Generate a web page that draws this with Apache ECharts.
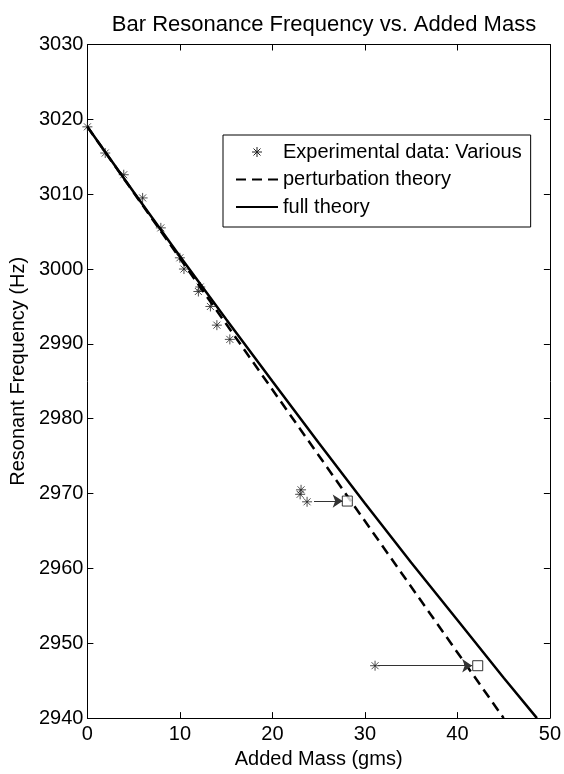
<!DOCTYPE html>
<html>
<head>
<meta charset="utf-8">
<script src="https://cdn.jsdelivr.net/npm/echarts@6/dist/echarts.min.js"></script>
<style>
html,body{margin:0;padding:0;background:#fff;}
#chart{width:564px;height:774px;}
</style>
</head>
<body>
<div id="chart"></div>
<script>
// ---- data ----
const xTicks = [0, 10, 20, 30, 40, 50];
const yTicks = [2940, 2950, 2960, 2970, 2980, 2990, 3000, 3010, 3020, 3030];

const expMass = [0, 1.93, 3.93, 5.97, 7.94, 10.0, 10.44, 12.0, 12.2, 13.3, 14.0, 15.4, 23.1, 23.0, 23.75, 31.1];
const expFreq = [3019, 3015.5, 3012.6, 3009.5, 3005.5, 3001.5, 3000.0, 2997.0, 2997.6, 2995.0, 2992.5, 2990.6, 2970.5, 2969.9, 2968.9, 2947.0];

const pertMass = [0, 45];
const pertFreq = [3019, 2940];

const fullMass = [0, 5, 10, 15, 20, 25, 30, 35, 40, 45, 48.6];
const fullFreq = [3019, 3010.3, 3001.7, 2993.3, 2985.0, 2976.8, 2968.7, 2960.8, 2953.1, 2945.4, 2940.0];

const squareMass = [28.1, 42.2];
const squareFreq = [2969.0, 2947.0];

// arrows: start mass, end mass, frequency
const arrowStart = [24.5, 31.4];
const arrowEnd = [27.6, 41.6];
const arrowFreq = [2969.0, 2947.0];

const names = ['Experimental data: Various', 'perturbation theory', 'full theory'];

// ---- chart ----
const FONT = 'Liberation Sans, Arial, Helvetica, sans-serif';
const STAR = 'path://M10,0L10,20M0,10L20,10M3,3L17,17M3,17L17,3';
const zip = (a, b) => a.map((v, i) => [v, b[i]]);

const chart = echarts.init(document.getElementById('chart'), null, {renderer: 'canvas'});

const baseX = {
  type: 'value', min: 0, max: 50, interval: 10,
  axisLine: {onZero: false, lineStyle: {color: '#000', width: 1}},
  axisTick: {inside: true, length: 6, lineStyle: {color: '#000', width: 1}},
  splitLine: {show: false}
};
const baseY = {
  type: 'value', min: 2940, max: 3030, interval: 10,
  axisLine: {onZero: false, lineStyle: {color: '#000', width: 1}},
  axisTick: {inside: true, length: 6, lineStyle: {color: '#000', width: 1}},
  splitLine: {show: false}
};

const option = {
  animation: false,
  backgroundColor: '#fff',
  title: {
    text: 'Bar Resonance Frequency vs. Added Mass',
    left: 319, textAlign: 'center', top: 9,
    textStyle: {fontFamily: FONT, fontSize: 22, fontWeight: 'normal', color: '#000', lineHeight: 22}
  },
  grid: {left: 86, right: 12, top: 44.5, bottom: 48.5, containLabel: false},
  legend: {
    orient: 'vertical',
    left: 223, top: 135,
    padding: [7, 9, 10, 12],
    itemGap: 7.5,
    itemWidth: 42, itemHeight: 10,
    borderColor: '#000', borderWidth: 1,
    backgroundColor: '#fff',
    itemStyle: {opacity: 0},
    textStyle: {fontFamily: FONT, fontSize: 20, color: '#000', lineHeight: 20},
    data: [
      {name: names[0], icon: STAR, itemStyle: {color: 'none', borderColor: '#222', borderWidth: 1, opacity: 1}},
      {name: names[1]},
      {name: names[2]}
    ]
  },
  xAxis: [
    Object.assign({}, baseX, {
      position: 'bottom',
      axisLabel: {color: '#000', fontFamily: FONT, fontSize: 20, margin: 6, formatter: v => xTicks.includes(v) ? String(v) : ''},
      name: 'Added Mass (gms)', nameLocation: 'middle', nameGap: 27,
      nameTextStyle: {fontFamily: FONT, fontSize: 20, color: '#000'}
    }),
    Object.assign({}, baseX, {position: 'top', axisLabel: {show: false}})
  ],
  yAxis: [
    Object.assign({}, baseY, {
      position: 'left',
      axisLabel: {color: '#000', fontFamily: FONT, fontSize: 20, margin: 4, formatter: v => yTicks.includes(v) ? String(v) : ''},
      name: 'Resonant Frequency (Hz)', nameLocation: 'middle', nameGap: 58,
      nameTextStyle: {fontFamily: FONT, fontSize: 20, color: '#000', padding: [0, 0, 0, 20]}
    }),
    Object.assign({}, baseY, {position: 'right', axisLabel: {show: false}})
  ],
  series: [
    {
      name: names[0], type: 'scatter', xAxisIndex: 0, yAxisIndex: 0,
      data: zip(expMass, expFreq),
      symbol: STAR, symbolSize: 10, symbolKeepAspect: true,
      itemStyle: {color: 'none', borderColor: '#222', borderWidth: 1},
      z: 2
    },
    {
      name: names[1], type: 'line', xAxisIndex: 0, yAxisIndex: 0,
      data: zip(pertMass, pertFreq),
      symbol: 'none', clip: true,
      lineStyle: {color: '#000', width: 2.5, type: [10, 6]},
      itemStyle: {color: '#000'},
      z: 3
    },
    {
      name: names[2], type: 'line', xAxisIndex: 0, yAxisIndex: 0,
      data: zip(fullMass, fullFreq),
      symbol: 'none', clip: true, smooth: false,
      lineStyle: {color: '#000', width: 2.5, type: 'solid'},
      itemStyle: {color: '#000'},
      z: 3
    },
    {
      name: 'arrows', type: 'lines', coordinateSystem: 'cartesian2d', xAxisIndex: 0, yAxisIndex: 0,
      data: arrowStart.map((s, i) => ({coords: [[s, arrowFreq[i]], [arrowEnd[i], arrowFreq[i]]]})),
      symbol: ['none', 'arrow'], symbolSize: [0, 10],
      lineStyle: {color: '#333', width: 1, opacity: 1},
      z: 4
    },
    {
      name: 'shifted', type: 'scatter', xAxisIndex: 0, yAxisIndex: 0,
      data: zip(squareMass, squareFreq),
      symbol: 'rect', symbolSize: 10,
      itemStyle: {color: '#fff', borderColor: '#000', borderWidth: 1},
      z: 5
    }
  ]
};
chart.setOption(option);
</script>
</body>
</html>
